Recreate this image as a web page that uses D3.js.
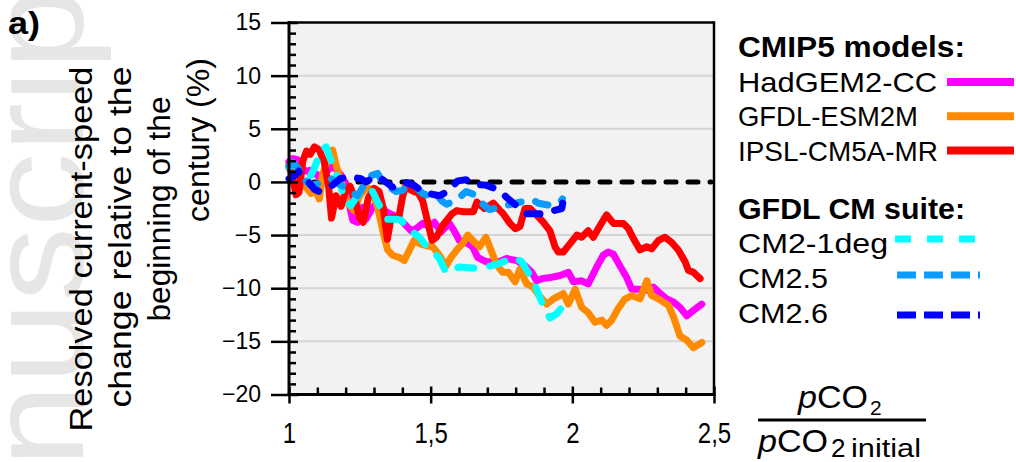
<!DOCTYPE html>
<html>
<head>
<meta charset="utf-8">
<script src="https://cdn.jsdelivr.net/npm/d3@7"></script>
<style>
  body { margin: 0; background: #fff; }
  svg { display: block; font-family: "Liberation Sans", Arial, sans-serif; }
</style>
</head>
<body>
<div class="chart"></div>
<script>
// values: [pCO2 / pCO2 initial, change in %]
const hadgem = [
  [1.000, 1.9], [1.014, 2.2], [1.030, 2.1], [1.045, 1.3], [1.060, 1.0], [1.080, 1.1],
  [1.100, 0.6], [1.125, 0.7], [1.150, 1.5], [1.170, 1.1], [1.190, 0.4], [1.205, -0.7],
  [1.215, -2.4], [1.225, -3.6], [1.242, -3.8], [1.260, -2.4], [1.272, -3.5], [1.295, -2.4],
  [1.313, -1.9], [1.330, -2.4], [1.342, -2.8], [1.366, -3.1], [1.395, -3.6], [1.431, -4.6],
  [1.448, -4.4], [1.472, -3.9], [1.495, -4.2], [1.513, -3.8], [1.537, -4.7], [1.566, -3.9],
  [1.583, -4.6], [1.601, -5.5], [1.631, -5.8], [1.648, -6.1], [1.666, -7.1], [1.695, -7.5],
  [1.742, -7.5], [1.768, -7.2], [1.804, -7.4], [1.833, -7.9], [1.857, -8.5], [1.874, -9.3],
  [1.892, -9.1], [1.921, -9.0], [1.957, -8.8], [1.986, -8.5], [2.004, -9.4], [2.033, -9.3],
  [2.056, -9.6], [2.086, -8.0], [2.109, -6.9], [2.127, -6.6], [2.145, -6.8], [2.168, -7.9],
  [2.192, -9.0], [2.210, -10.1], [2.233, -10.1], [2.263, -10.2], [2.286, -9.9], [2.310, -10.5],
  [2.333, -11.0], [2.357, -11.3], [2.380, -11.8], [2.404, -12.6], [2.427, -12.1], [2.457, -11.5]
];
const gfdlEsm = [
  [1.000, 1.3], [1.014, 1.0], [1.039, 0.2], [1.060, -0.5], [1.078, -1.1], [1.090, -0.6],
  [1.107, -1.6], [1.119, 0.8], [1.137, 2.0], [1.154, 3.0], [1.166, 1.6], [1.190, -0.5],
  [1.207, -2.0], [1.230, -2.7], [1.248, -1.4], [1.272, -0.5], [1.295, -0.8], [1.313, -2.4],
  [1.331, -4.6], [1.348, -6.4], [1.366, -6.9], [1.389, -7.1], [1.407, -7.4], [1.425, -6.4],
  [1.442, -5.5], [1.460, -5.8], [1.484, -6.0], [1.507, -6.1], [1.531, -6.9], [1.554, -7.9],
  [1.572, -7.1], [1.595, -6.3], [1.613, -5.8], [1.631, -5.0], [1.648, -5.5], [1.672, -6.1],
  [1.695, -5.2], [1.713, -6.4], [1.731, -7.7], [1.754, -8.5], [1.774, -8.5], [1.798, -9.4],
  [1.815, -8.2], [1.839, -9.6], [1.862, -9.9], [1.886, -10.8], [1.910, -11.5], [1.933, -11.0],
  [1.968, -10.5], [1.986, -11.5], [2.010, -10.1], [2.033, -11.8], [2.056, -12.3], [2.080, -13.2],
  [2.104, -13.0], [2.121, -13.5], [2.139, -13.0], [2.162, -11.9], [2.186, -11.0], [2.210, -10.7],
  [2.239, -11.0], [2.263, -9.3], [2.280, -10.7], [2.304, -11.0], [2.339, -11.6], [2.357, -12.7],
  [2.380, -14.5], [2.404, -14.9], [2.427, -15.6], [2.457, -15.1]
];
const ipsl = [
  [1.000, 1.6], [1.012, 0.5], [1.025, -1.2], [1.035, -1.0], [1.049, 2.0], [1.062, 2.9],
  [1.075, 2.6], [1.090, 3.3], [1.107, 3.0], [1.125, 1.8], [1.140, -0.5], [1.150, -3.4],
  [1.166, -1.3], [1.184, -2.3], [1.198, -1.0], [1.215, -0.4], [1.232, -1.5], [1.248, -3.3],
  [1.262, -3.8], [1.280, -1.5], [1.300, -0.6], [1.318, -0.9], [1.333, -2.5], [1.347, -5.4],
  [1.360, -3.4], [1.388, -3.3], [1.400, -1.5], [1.410, -0.5], [1.440, -0.9], [1.455, -1.0],
  [1.472, -1.8], [1.488, -3.6], [1.505, -5.5], [1.520, -5.2], [1.545, -4.0], [1.575, -3.0],
  [1.592, -2.7], [1.615, -2.8], [1.651, -2.8], [1.663, -1.9], [1.690, -2.5], [1.721, -2.0],
  [1.745, -2.7], [1.756, -3.0], [1.780, -3.9], [1.798, -4.4], [1.815, -4.2], [1.833, -2.5],
  [1.851, -2.5], [1.874, -3.1], [1.898, -3.8], [1.921, -4.6], [1.939, -6.1], [1.951, -6.6],
  [1.968, -6.6], [1.992, -5.8], [2.016, -5.0], [2.033, -5.2], [2.056, -4.6], [2.074, -5.2],
  [2.098, -4.1], [2.121, -3.1], [2.145, -3.9], [2.180, -3.9], [2.198, -4.4], [2.215, -5.3],
  [2.239, -6.4], [2.263, -6.1], [2.280, -6.3], [2.304, -5.5], [2.327, -5.2], [2.351, -5.7],
  [2.374, -6.4], [2.398, -7.5], [2.409, -8.3], [2.427, -8.5], [2.451, -9.1]
];
const cm21deg = [
  [1.000, 1.4], [1.014, 1.8], [1.030, 1.2], [1.050, 0.7], [1.070, 0.3], [1.085, 1.0],
  [1.107, 2.5], [1.119, 3.1], [1.131, 3.3], [1.154, 1.6], [1.170, 0.5], [1.184, -0.5],
  [1.195, -1.7], [1.219, -2.2], [1.242, -1.3], [1.272, -0.6], [1.295, -0.9], [1.313, -1.9],
  [1.331, -2.8], [1.348, -3.5], [1.378, -3.5], [1.395, -3.6], [1.431, -4.6], [1.460, -5.2],
  [1.484, -6.0], [1.500, -6.3], [1.531, -7.2], [1.554, -8.5], [1.572, -8.3], [1.601, -8.0],
  [1.651, -8.1], [1.698, -8.0], [1.739, -7.7], [1.768, -7.4], [1.792, -7.1], [1.821, -7.5],
  [1.851, -8.8], [1.868, -9.7], [1.892, -11.3], [1.921, -12.8], [1.945, -12.4], [1.963, -11.8],
  [1.966, -10.5]
];
const cm25 = [
  [1.000, 1.5], [1.015, 1.8], [1.035, 1.2], [1.055, 0.2], [1.075, -0.3], [1.100, -0.2],
  [1.125, 0.1], [1.148, 0.3], [1.166, 0.0], [1.195, -0.5], [1.213, -0.8], [1.242, -1.3],
  [1.265, -0.3], [1.290, 0.6], [1.313, 0.8], [1.331, 0.0], [1.354, -0.5], [1.378, -0.9],
  [1.401, -0.8], [1.425, -0.2], [1.448, -0.5], [1.472, -1.1], [1.495, -1.3], [1.519, -1.1],
  [1.540, -1.8], [1.556, -2.1], [1.575, -1.9], [1.592, -1.7], [1.625, -0.9], [1.663, -1.3],
  [1.680, -2.0], [1.707, -2.6], [1.742, -2.4], [1.768, -2.2], [1.815, -1.9], [1.862, -1.7],
  [1.880, -2.0], [1.921, -2.2], [1.957, -1.9], [1.965, -1.6]
];
const cm26 = [
  [1.000, 0.3], [1.020, 0.6], [1.035, 1.0], [1.050, 0.5], [1.072, -0.1], [1.090, -0.7],
  [1.107, -0.9], [1.130, -0.6], [1.154, -0.3], [1.180, 0.3], [1.213, 0.5], [1.254, 0.3],
  [1.272, 0.0], [1.295, 0.4], [1.313, 0.5], [1.331, 0.2], [1.366, -0.5], [1.395, -0.1],
  [1.407, 0.0], [1.440, -0.3], [1.466, -0.8], [1.495, -1.1], [1.531, -1.3], [1.566, -0.8],
  [1.595, 0.1], [1.625, 0.2], [1.651, -0.2], [1.695, -0.3], [1.725, -0.6], [1.754, -1.1],
  [1.770, -1.5], [1.792, -2.0], [1.839, -3.0], [1.886, -3.0], [1.933, -2.7], [1.963, -2.5],
  [1.968, -1.7]
];

const cmipNames = ["HadGEM2-CC", "GFDL-ESM2M", "IPSL-CM5A-MR"];
const cmNames = ["CM2-1deg", "CM2.5", "CM2.6"];
const yTicks = [-20, -15, -10, -5, 0, 5, 10, 15];
const xTicks = [1, 1.5, 2, 2.5];
const xTickLabels = ["1", "1,5", "2", "2,5"];
const yTitle = ["Resolved current-speed", "change relative to the", "beginning of the", "century (%)"];

// styling, kept apart from the values
const cmipColors = ["#ff00ff", "#ff8a00", "#ff0000"];
const cmColors = ["#00ffff", "#0a9bff", "#0000ff"];
const cmDashPlot = ["16 16", "13 15", "13 15"];
const cmDashLegend = ["16 16", "19 8", "19 8"];

const width = 1016;
const height = 462;
const plotLeft = 289;
const plotRight = 714;
const plotTop = 22.5;
const plotBottom = 394.5;
const font = "'Liberation Sans', Arial, sans-serif";

const x = d3.scaleLinear().domain([1, 2.5]).range([plotLeft, plotRight]);
const y = d3.scaleLinear().domain([-20, 15]).range([plotBottom, plotTop]);

const svg = d3
  .select(".chart")
  .append("svg")
  .attr("width", width)
  .attr("height", height);

// "manuscript" watermark behind everything
svg
  .append("text")
  .attr("transform", "translate(83,467) rotate(-90)")
  .attr("font-size", 135)
  .attr("fill", "#e6e6e6")
  .attr("textLength", 480)
  .attr("lengthAdjust", "spacingAndGlyphs")
  .text("nuscrip");

svg
  .append("rect")
  .attr("x", plotLeft)
  .attr("y", plotTop)
  .attr("width", plotRight - plotLeft)
  .attr("height", plotBottom - plotTop)
  .attr("fill", "#f2f2f2");

// gridlines
svg
  .append("g")
  .selectAll("line")
  .data(yTicks.filter(v => v !== 0 && v !== -20 && v !== 15))
  .join("line")
  .attr("x1", plotLeft)
  .attr("x2", plotRight)
  .attr("y1", d => y(d))
  .attr("y2", d => y(d))
  .attr("stroke", "#d5d5d5")
  .attr("stroke-width", 2);

// zero reference
svg
  .append("line")
  .attr("x1", plotLeft + 3)
  .attr("x2", plotRight - 3)
  .attr("y1", y(0))
  .attr("y2", y(0))
  .attr("stroke", "#000")
  .attr("stroke-width", 5)
  .attr("stroke-dasharray", "10 12")
  .attr("stroke-linecap", "round");

const line = d3
  .line()
  .x(d => x(d[0]))
  .y(d => y(d[1]));

const series = [
  { data: hadgem, color: cmipColors[0], dash: null },
  { data: gfdlEsm, color: cmipColors[1], dash: null },
  { data: ipsl, color: cmipColors[2], dash: null },
  { data: cm21deg, color: cmColors[0], dash: cmDashPlot[0] },
  { data: cm25, color: cmColors[1], dash: cmDashPlot[1] },
  { data: cm26, color: cmColors[2], dash: cmDashPlot[2] }
];

svg
  .append("g")
  .selectAll("path")
  .data(series)
  .join("path")
  .attr("d", d => line(d.data))
  .attr("fill", "none")
  .attr("stroke", d => d.color)
  .attr("stroke-width", 7)
  .attr("stroke-linecap", "round")
  .attr("stroke-linejoin", "round")
  .attr("stroke-dasharray", d => d.dash);

// axes
const styleAxis = g => {
  g.select(".domain").remove();
  g.attr("font-family", null).attr("font-size", null);
  g.selectAll("line").attr("stroke", "#000").attr("stroke-width", 2.5);
};

svg
  .append("g")
  .attr("transform", `translate(${plotLeft + 9},0)`)
  .call(d3.axisLeft(y).tickValues(yTicks).tickSize(27).tickPadding(10))
  .call(styleAxis)
  .call(g =>
    g.selectAll("text").attr("font-family", font).attr("font-size", 23).attr("fill", "#000")
  );

svg
  .append("g")
  .attr("transform", `translate(${plotLeft},0)`)
  .call(
    d3
      .axisLeft(y)
      .tickValues(d3.range(-20, 15).filter(v => v % 5 !== 0))
      .tickSize(-7)
      .tickFormat("")
  )
  .call(styleAxis);

svg
  .append("g")
  .attr("transform", `translate(0,${plotBottom - 8})`)
  .call(
    d3
      .axisBottom(x)
      .tickValues(xTicks)
      .tickSize(17)
      .tickFormat((d, i) => xTickLabels[i])
  )
  .call(styleAxis)
  .call(g =>
    g
      .selectAll("text")
      .attr("y", null)
      .attr("dy", null)
      .attr("transform", "translate(0,56) scale(0.8,1)")
      .attr("font-family", font)
      .attr("font-size", 30)
      .attr("fill", "#000")
  );

svg
  .append("g")
  .attr("transform", `translate(0,${plotBottom})`)
  .call(
    d3
      .axisBottom(x)
      .tickValues(d3.range(11, 25).filter(v => v % 5 !== 0).map(v => v / 10))
      .tickSize(-7)
      .tickFormat("")
  )
  .call(styleAxis);

// frame
const frame = svg.append("g").attr("stroke", "#000");
frame.append("line").attr("x1", plotLeft).attr("x2", plotLeft).attr("y1", plotTop - 1.5).attr("y2", plotBottom + 1.5).attr("stroke-width", 3);
frame.append("line").attr("x1", plotLeft - 1.5).attr("x2", plotRight + 1.5).attr("y1", plotBottom).attr("y2", plotBottom).attr("stroke-width", 3);
frame.append("line").attr("x1", plotLeft).attr("x2", plotRight).attr("y1", plotTop).attr("y2", plotTop).attr("stroke-width", 2.5);
frame.append("line").attr("x1", plotRight).attr("x2", plotRight).attr("y1", plotTop - 1.2).attr("y2", plotBottom).attr("stroke-width", 2.5);

// y title
const titleX = [92, 131, 170, 209];
const titleY = [249, 237, 209, 140];
const titleLen = [365, 341, 225, 164];
svg
  .append("g")
  .selectAll("text")
  .data(yTitle)
  .join("text")
  .attr("transform", (d, i) => `translate(${titleX[i]},${titleY[i]}) rotate(-90)`)
  .attr("text-anchor", "middle")
  .attr("font-size", 31)
  .attr("textLength", (d, i) => titleLen[i])
  .attr("lengthAdjust", "spacingAndGlyphs")
  .text(d => d);

svg
  .append("text")
  .attr("x", 8)
  .attr("y", 34)
  .attr("font-size", 32)
  .attr("font-weight", "bold")
  .attr("textLength", 32)
  .attr("lengthAdjust", "spacingAndGlyphs")
  .text("a)");

// x title as a fraction
const fracText = (x0, base, len) => {
  const t = svg
    .append("text")
    .attr("x", x0)
    .attr("y", base)
    .attr("font-size", 32)
    .attr("textLength", len)
    .attr("lengthAdjust", "spacingAndGlyphs");
  t.append("tspan").attr("font-style", "italic").text("p");
  t.append("tspan").text("CO");
};
fracText(798, 408, 70);
svg.append("text").attr("x", 870).attr("y", 415).attr("font-size", 21).text("2");
svg
  .append("line")
  .attr("x1", 758)
  .attr("x2", 926)
  .attr("y1", 420)
  .attr("y2", 420)
  .attr("stroke", "#000")
  .attr("stroke-width", 3);
fracText(758, 452, 70);
svg.append("text").attr("x", 831).attr("y", 457).attr("font-size", 26).text("2");
svg
  .append("text")
  .attr("x", 851)
  .attr("y", 457)
  .attr("font-size", 26)
  .attr("textLength", 70)
  .attr("lengthAdjust", "spacingAndGlyphs")
  .text("initial");

// legend
const legend = svg.append("g");
legend
  .append("text")
  .attr("x", 738)
  .attr("y", 57)
  .attr("font-size", 29)
  .attr("font-weight", "bold")
  .attr("textLength", 227)
  .attr("lengthAdjust", "spacingAndGlyphs")
  .text("CMIP5 models:");
const cmipLen = [199, 180, 200];
cmipNames.forEach((name, i) => {
  const base = 92 + i * 34.3;
  legend
    .append("text")
    .attr("x", 738)
    .attr("y", base)
    .attr("font-size", 28)
    .attr("textLength", cmipLen[i])
    .attr("lengthAdjust", "spacingAndGlyphs")
    .text(name);
  legend
    .append("line")
    .attr("x1", 947)
    .attr("x2", 1014)
    .attr("y1", base - 10)
    .attr("y2", base - 10)
    .attr("stroke", cmipColors[i])
    .attr("stroke-width", 8);
});

legend
  .append("text")
  .attr("x", 738)
  .attr("y", 219)
  .attr("font-size", 29)
  .attr("font-weight", "bold")
  .attr("textLength", 227)
  .attr("lengthAdjust", "spacingAndGlyphs")
  .text("GFDL CM suite:");
const cmLen = [150, 90, 90];
const cmLineY = [239, 275, 315];
cmNames.forEach((name, i) => {
  const base = 253 + i * 35;
  legend
    .append("text")
    .attr("x", 738)
    .attr("y", base)
    .attr("font-size", 28)
    .attr("textLength", cmLen[i])
    .attr("lengthAdjust", "spacingAndGlyphs")
    .text(name);
  legend
    .append("line")
    .attr("x1", i === 0 ? 895 : 897)
    .attr("x2", 980)
    .attr("y1", cmLineY[i])
    .attr("y2", cmLineY[i])
    .attr("stroke", cmColors[i])
    .attr("stroke-width", 7)
    .attr("stroke-dasharray", cmDashLegend[i]);
});
</script>
</body>
</html>
